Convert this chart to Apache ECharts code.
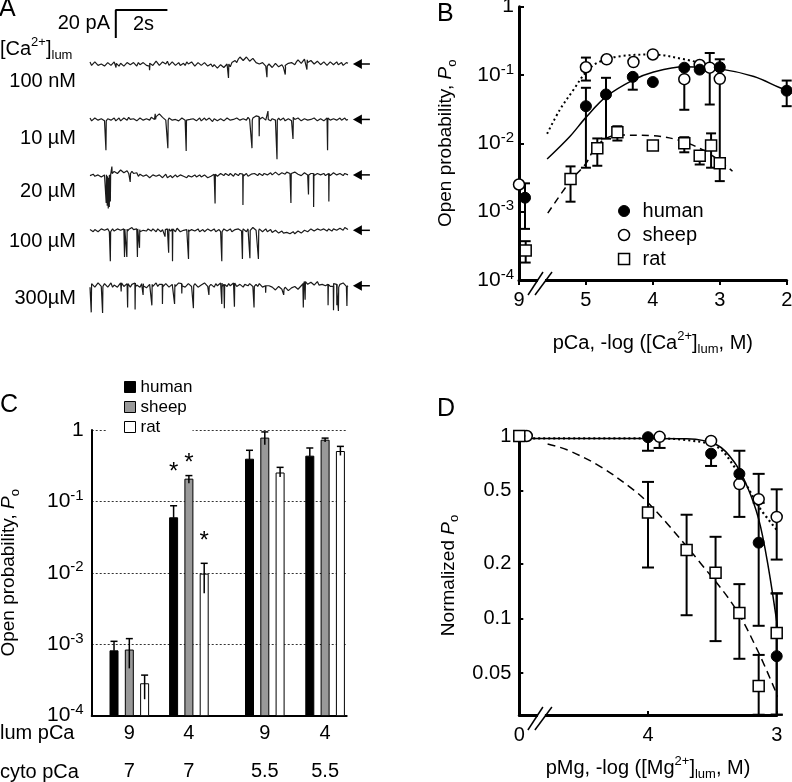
<!DOCTYPE html>
<html><head><meta charset="utf-8">
<script src="https://cdn.jsdelivr.net/npm/echarts@6/dist/echarts.min.js"></script>
<style>html,body{margin:0;padding:0;background:#fff}#c{width:792px;height:782px}</style>
</head><body><div id="c"></div>
<script>
// ================= DATA =================
// ---- Panel A: single-channel traces (pA relative to baseline), one sample per 0.0625 s ----
const traceLabels = ['100 nM', '10 µM', '20 µM', '100 µM', '300µM'];
const traceStep = 0.0625;
const base100nM = [
1.5,-1, -0.5,1.5, 1,-1, -1.5,0, 0.5,-1.5, -1,1, 1.5,-1, -0.5,1.5,
0.5,-0.5, -1.5,0.5, 1,-1.5, -0.5,1, 1.5,-0.5, -1,1, 0,-1.5, 1,-0.5,
-1,1, 0.5,-1, -1.5,0.5, 1,-1, 0,2, 1.5,-1, -0.5,1.5, 1,0,
2,-1, -0.5,1.5, 1,-1, 0,1, -1,0, 0.5,-1, 1.5,0, -0.5,1.5,
0.5,-1.5, -1,1, 1,-1, -0.5,1, 0,-1.5, -1,0, -2,-0.5, -1.5,-3,
-2.5,-0.5, -1,-2.5, -2,0, -0.5,-2, 1,0, 2.5,1, 3.5,5, 4.5,2.5,
3,5, 4,2, 2.5,4, 3,1, 1.5,0, -0.5,1, 0.5,-1.5, -1.5,0,
-1,-2.5, -2,0.5, 0,-2, -1.5,-0.5, -2.5,-1, -1,0.5, -0.5,1, 0.5,-0.5,
1.5,3, 2.5,0.5, 1,3.5, 3,1, 2,2.5, 1.5,0, 0.5,2, 1.5,-0.5,
0,1.5, 1,-1, -0.5,1.5, 1,-0.5, 0.5,1.5, -0.5,0, 1,-1, 0,1,
0.5];
const base10uM = [
1,-1, -0.5,1, 1.5,-0.5, -1,0.5, 0.5,-1, -1.5,0.5, 1,-0.5, 0,1,
-1,0, 1,-1, -0.5,1, 0.5,-0.5, 1.5,0, -1,0.5, 0.5,-1, -0.5,1,
1,-0.5, -1,0.5, 0.5,-0.5, 1.5,0.5, 0,2, 2.5,4, 3.5,1.5, 1,-0.5,
-0.5,1, 1,-0.5, -1,0, 0.5,-1, -0.5,1, 1,-0.5, -1.5,0.5, 0,-1,
0.5,1, -1,0, 1,-1, 0,1, -0.5,-1.5, 1,0, -1.5,0.5, 0.5,-1,
-1,0.5, 0.5,-1, -0.5,1, 1,-0.5, -1.5,0, 0,1, 1,-0.5, -1,0.5,
0.5,-0.5, 1.5,0, -0.5,1, 1,2.5, 2,0, 0.5,1.5, 1.5,-0.5, 0,1,
-1,0.5, 1.5,-0.5, 0.5,1, -0.5,0.5, 1,-1, -1,0.5, 0,-1, 1.5,0,
-0.5,1, 0.5,-1, -1,0.5, 1,-0.5, -1.5,0, 0,1, 0.5,-1, -1,0.5,
0.5,-1, -0.5,1, 1,-0.5, -1,0.5, 0.5,-0.5, 0,1, -0.5,0.5, 1,-0.5,
0];
const base20uM = [
-0.5,0.5, 0.5,-1, -1,0, 0,-1.5, -1.5,0, -1,-2, 0,1, 1,2.5,
2.5,1, 1.5,3.5, 3,1.5, 2,3, 1,2, 2.5,1, 0.5,1.5, -1,0.5,
0,-1, -1.5,0, -0.5,-2, -1,0, 0.5,-1, -1.5,0, -0.5,-2, -1,0.5,
-2,-1, -0.5,-2, -1,0, -1.5,-2.5, 0,-1, -1,-2, -2,-0.5, -0.5,-1.5,
-1,0, -1.5,-0.5, 0,-1.5, -1,0, -0.5,-2, -2,-1, -1,0.5, 0.5,-1,
-0.5,1, 0.5,-0.5, 1,0, -0.5,1, 0,-1, 1,0, -0.5,1, 0.5,-1,
0,1, -1,0, 0.5,-0.5, 1,0, -0.5,1, 0.5,-0.5, 1,2, 0,1,
1.5,0, 0.5,2, 1,0, 0,1.5, 1.5,0.5, 2,3, 1,0, 0.5,2,
2,0.5, 1,-0.5, 0,1.5, 1.5,0, -0.5,1, 1,-0.5, 0,1, 1.5,0,
0.5,1, -0.5,0.5, 1,-0.5, 0,1.5, 1,0, -0.5,1, 0.5,-0.5, 1,0,
0];
const base100uM = [
0.5,-0.5, -1,0.5, 1,-1, -0.5,1, 1.5,0, 0,1, -1,0, 1,-0.5,
0,1, 1.5,0, -0.5,1, 1,-1, 0.5,1.5, 2,0.5, -0.5,1, 0.5,-1,
-1,0, 0.5,-0.5, 1,0, -0.5,1, 0,-1, 1,0, -1,0.5, 0.5,-0.5,
1,0, -0.5,1, 0.5,-1, 1.5,0.5, -1,0, 0,1, 0.5,-1, -0.5,0.5,
1,-0.5, 0,1, -1,0, 0.5,-1, -0.5,1, 1,-0.5, 0,1, -1,0,
0.5,-1, -0.5,1, 1,-0.5, 0,1, -1,0, 0.5,-0.5, 1,0, -0.5,1,
0,-1, 1,0, 0.5,2, 1.5,0, -0.5,1, 0.5,-1, 0,1, -1,0,
0.5,-1.5, -1,0, 0,-2, -1.5,-0.5, -2,-3, -1.5,-0.5, -2.5,-1.5, -1,-2.5,
-2,-0.5, -1,-2, -1.5,0, 0,-1, -0.5,1, 0.5,-0.5, -0.5,1, 1,0,
0,1, 0.5,-0.5, 1,0, -0.5,1, 1.5,0, 0.5,1.5, 1,0, 2,1,
0.5];
const base300uM = [
-1,1.5, 1,-1, 0,2, 1.5,-0.5, -0.5,1.5, 1,-1, 0.5,2, -1,0.5,
1,-1, 0,2, 1.5,-0.5, -0.5,1.5, 0.5,-1, 1,2, -1,0.5, 0.5,-1,
1.5,0, 0,-1.5, -1,1, 1,-0.5, 0.5,2, -0.5,1, 1,-1, 0,1.5,
0.5,-1, -1,1, 1,-0.5, 0,2, 1.5,0, 0.5,-1, -0.5,1.5, 1,-0.5,
0,1.5, 1,-1, -1,0.5, 0.5,2, 1,-0.5, -0.5,1, 0,-1, 1.5,0,
0.5,2, -0.5,1, 1,-0.5, 1.5,0, 0,2, 1,-0.5, -0.5,1, 0.5,-1,
1,0, 0,1.5, 1.5,-0.5, 0.5,1, -0.5,1.5, 1,-1, 0,1, -1,0,
0.5,-1, -1.5,-3, -2,-0.5, -1,-2.5, -2.5,-1, -1.5,-3.5, -3,-1.5, -2,-0.5,
-1,-2.5, -2,0, 1.5,3, 2.5,1, 1,2.5, 2,0.5, 1.5,3, 0.5,-0.5,
1,2, 0,1, 1.5,-0.5, -0.5,1.5, 1,-1, 0,1, 0.5,2, 1,-0.5,
0];
// channel openings: [time s, amplitude pA] (negative = upward blip)
const events100nM = [[1.0,3],[2.3,3],[5.36,10],[6.85,8],[7.56,5],[8.4,7]];
const events10uM = [[0.61,21],[2.52,-4],[3.01,20],[3.72,22],[6.27,20],[6.55,14],[6.89,-6],[7.24,28],[7.86,13],[9.2,23]];
const events20uM = [[0.62,20],[0.66,21],[0.7,22],[0.74,21],[0.78,19],[0.84,-5],[1.55,6],[4.84,21],[5.92,22],[7.78,21],[8.46,14],[8.66,24],[9.25,20]];
const events100uM = [[0.78,21],[1.33,20],[1.42,20],[1.83,20],[1.91,13],[2.9,5],[3.04,17],[3.19,23],[3.81,21],[5.1,21],[5.9,20],[6.19,20],[6.52,20]];
const events300uM = [[0.04,18],[0.48,19],[1.2,6],[1.45,17],[1.74,19],[2.05,8],[2.39,15],[2.8,14],[3.27,14],[3.55,7],[4.0,16],[4.6,6],[5.1,15],[5.2,17],[5.59,17],[6.35,15],[6.8,5],[7.5,4],[8.26,17],[8.33,13],[9.22,15],[9.43,17],[9.56,15],[9.62,17],[9.95,14]];
const scaleBarPA = 20, scaleBarS = 2;

// ---- Panel B: Po vs luminal pCa (pCa 9 sits before the axis break) ----
const bHumanPCa = [8.91, 5.0, 4.7, 4.3, 4.0, 3.53, 3.3, 3.0, 2.0];
const bHumanPo  = [0.0016, 0.035, 0.052, 0.094, 0.079, 0.128, 0.12, 0.13, 0.059];
const bHumanHi  = [0.0026, 0.065, 0.091, 0.10, null, null, null, 0.17, 0.083];
const bHumanLo  = [0.00056, 0.0044, 0.0117, 0.061, null, null, null, null, 0.035];
const bSheepPCa = [9.0, 5.0, 4.69, 4.29, 4.0, 3.53, 3.3, 3.15, 3.0];
const bSheepPo  = [0.0025, 0.13, 0.17, 0.155, 0.20, 0.087, 0.14, 0.128, 0.088];
const bSheepHi  = [null, 0.18, null, null, null, null, null, 0.21, null];
const bSheepLo  = [null, 0.083, null, null, null, 0.031, null, 0.037, 0.0046];
const bRatPCa   = [8.9, 5.23, 4.83, 4.53, 4.0, 3.53, 3.3, 3.13, 3.0];
const bRatPo    = [0.00027, 0.003, 0.0085, 0.0145, 0.0093, 0.010, 0.0066, 0.0093, 0.0051];
const bRatHi    = [0.00037, 0.0046, 0.0118, 0.0178, null, 0.0123, null, 0.014, null];
const bRatLo    = [0.00018, 0.0014, 0.0047, 0.011, null, 0.0074, 0.0049, 0.0044, 0.0028];
const bHumanFitPCa = [5.58, 5.24, 5.0, 4.69, 4.29, 4.0, 3.53, 3.0, 2.49, 2.1, 2.0];
const bHumanFitPo  = [0.0059, 0.0126, 0.024, 0.049, 0.085, 0.11, 0.132, 0.123, 0.095, 0.065, 0.060];
const bSheepFitPCa = [5.58, 5.39, 5.19, 5.0, 4.83, 4.53, 4.0, 3.53, 3.3];
const bSheepFitPo  = [0.0138, 0.031, 0.060, 0.11, 0.151, 0.186, 0.20, 0.17, 0.151];
const bRatFitPCa   = [5.57, 5.24, 5.0, 4.83, 4.53, 4.0, 3.53, 3.13, 2.81];
const bRatFitPo    = [0.00095, 0.00275, 0.0051, 0.0095, 0.0132, 0.0129, 0.0105, 0.0068, 0.0039];
const bTickValues = [6, 5, 4, 3, 2];
const bTickLabels = ['9', '5', '4', '3', '2'];

// ---- Panel C: bar chart ----
const cLumPCa  = ['9', '4', '9', '4'];
const cCytoPCa = ['7', '7', '5.5', '5.5'];
const cHuman   = [0.00081, 0.059, 0.39, 0.43];
const cHumanHi = [0.0011, 0.087, 0.52, 0.56];
const cHumanLo = [null, null, null, null];
const cSheep   = [0.00083, 0.205, 0.77, 0.72];
const cSheepHi = [0.0012, 0.23, 0.94, 0.77];
const cSheepLo = [0.00046, 0.18, 0.62, 0.68];
const cRat     = [0.00028, 0.0096, 0.25, 0.50];
const cRatHi   = [0.00037, 0.0136, 0.30, 0.59];
const cRatLo   = [0.00017, 0.0052, 0.22, 0.44];
const cStars   = [[1, 'human', 0.31], [1, 'sheep', 0.41], [1, 'rat', 0.034]]; // [group, species, height]

// ---- Panel D: normalized Po vs luminal pMg (0 = no Mg, before the break) ----
const dHumanPMg = [0, 4.0, 3.51, 3.29, 3.14, 3.0];
const dHumanPo  = [1, 0.985, 0.80, 0.62, 0.26, 0.062];
const dHumanHi  = [null, null, null, 0.83, 0.43, 0.137];
const dHumanLo  = [null, 0.83, 0.685, 0.36, 0.091, 0.0296];
const dSheepPMg = [0, 3.91, 3.51, 3.29, 3.14, 3.0];
const dSheepPo  = [1, 0.99, 0.94, 0.545, 0.45, 0.36];
const dSheepHi  = [null, null, null, null, 0.62, 0.51];
const dSheepLo  = [null, 0.86, null, null, null, 0.21];
const dRatPMg   = [0, 4.0, 3.70, 3.475, 3.29, 3.14, 3.0];
const dRatPo    = [1, 0.38, 0.237, 0.178, 0.107, 0.0425, 0.083];
const dRatHi    = [null, 0.56, 0.37, 0.28, 0.154, 0.063, 0.137];
const dRatLo    = [null, 0.19, 0.104, 0.075, 0.06, 0.0296, 0.0296];
const dHumanFitPMg = [4.93, 4.5, 4.0, 3.7, 3.46, 3.33, 3.23, 3.14, 3.07, 2.99];
const dHumanFitPo  = [0.97, 0.97, 0.97, 0.965, 0.89, 0.72, 0.53, 0.35, 0.2, 0.086];
const dSheepFitPMg = [4.93, 4.0, 3.7, 3.46, 3.33, 3.23, 3.14, 2.99];
const dSheepFitPo  = [0.97, 0.97, 0.95, 0.87, 0.68, 0.53, 0.41, 0.30];
const dRatFitPMg   = [4.78, 4.63, 4.37, 4.11, 4.0, 3.85, 3.59, 3.33, 3.15, 2.99];
const dRatFitPo    = [0.905, 0.84, 0.68, 0.505, 0.43, 0.33, 0.2, 0.116, 0.067, 0.037];
const dYTicks = [1, 0.5, 0.2, 0.1, 0.05];
const dTickLabels = {5: '0', 4: '4', 3: '3'};

// ================= LAYOUT / STYLE =================
const FONT = '"Liberation Sans", Arial, sans-serif';
const traceGap = 39.6;          // pA between stacked traces
const bBreakPos = 5.686, dBreakPos = 4.84;
const cGroupPos = [0.627, 1.62, 2.885, 3.89];
const cBarOffset = {human: -0.255, sheep: 0, rat: 0.255};
const dZeroJitter = {human: 0, sheep: -0.058, rat: 0};
const bX = p => (p >= 8 ? p - 3 : p);     // pCa 9 drawn just before the break
const dX = (p, sp) => (p === 0 ? 5 + dZeroJitter[sp] : p);

function buildTrace(base, events, k) {
  const evs = events.slice().sort((a, b) => a[0] - b[0]);
  const out = [];
  let j = 0;
  base.forEach((v, i) => {
    const t = i * traceStep;
    while (j < evs.length && evs[j][0] < t) {
      const prev = out.length ? out[out.length - 1][1] : v;
      const te = evs[j][0], a = evs[j][1];
      out.push([te, prev], [te + 0.008, prev - a], [te + 0.02, prev]);
      j++;
    }
    out.push([t, v]);
  });
  return out.map(p => [p[0], p[1] - k * traceGap]);
}
const traces = [
  buildTrace(base100nM, events100nM, 0),
  buildTrace(base10uM, events10uM, 1),
  buildTrace(base20uM, events20uM, 2),
  buildTrace(base100uM, events100uM, 3),
  buildTrace(base300uM, events300uM, 4)
];

function errData(xs, ys, lo, hi, xmap) {
  const out = [];
  xs.forEach((x, i) => {
    const l = lo[i], h = hi[i];
    if (l == null && h == null) return;
    out.push([xmap(x), l == null ? ys[i] : l, h == null ? ys[i] : h, l == null ? 0 : 1, h == null ? 0 : 1]);
  });
  return out;
}
function errSeries(name, ai, data, cap, lw) {
  return {
    type: 'custom', name, xAxisIndex: ai, yAxisIndex: ai, z: 2, silent: true,
    encode: {x: 0, y: [1, 2]}, data,
    renderItem(params, api) {
      const x = api.value(0);
      const a = api.coord([x, api.value(1)]), b = api.coord([x, api.value(2)]);
      const st = {stroke: '#000', lineWidth: lw, fill: null};
      const ch = [{type: 'line', shape: {x1: a[0], y1: a[1], x2: b[0], y2: b[1]}, style: st}];
      if (api.value(3)) ch.push({type: 'line', shape: {x1: a[0] - cap, y1: a[1], x2: a[0] + cap, y2: a[1]}, style: st});
      if (api.value(4)) ch.push({type: 'line', shape: {x1: b[0] - cap, y1: b[1], x2: b[0] + cap, y2: b[1]}, style: st});
      return {type: 'group', children: ch};
    }
  };
}
const markerStyle = {
  human: {symbol: 'circle', itemStyle: {color: '#000', borderColor: '#000', borderWidth: 1, opacity: 1}, z: 5},
  sheep: {symbol: 'circle', itemStyle: {color: '#fff', borderColor: '#000', borderWidth: 1.5, opacity: 1}, z: 4},
  rat:   {symbol: 'rect',   itemStyle: {color: '#fff', borderColor: '#000', borderWidth: 1.5, opacity: 1}, z: 6}
};
function scatterSeries(sp, ai, data) {
  const m = markerStyle[sp];
  return {type: 'scatter', name: sp, xAxisIndex: ai, yAxisIndex: ai, symbol: m.symbol, symbolSize: 11,
    itemStyle: m.itemStyle, z: m.z, data, silent: true};
}
function fitSeries(name, ai, data, lineStyle) {
  return {type: 'line', name, xAxisIndex: ai, yAxisIndex: ai, data, symbol: 'none', smooth: 0.35,
    lineStyle: Object.assign({color: '#000'}, lineStyle), z: 3, silent: true};
}
function breakSeries(ai, pos, yMin) {
  return {type: 'custom', xAxisIndex: ai, yAxisIndex: ai, z: 10, silent: true, data: [[pos, yMin]],
    encode: {x: 0, y: 1},
    renderItem(params, api) {
      const p = api.coord([api.value(0), api.value(1)]);
      const st = {stroke: '#000', lineWidth: 1.5};
      return {type: 'group', children: [
        {type: 'rect', shape: {x: p[0] - 2, y: p[1] - 3, width: 7, height: 6}, style: {fill: '#fff'}},
        {type: 'line', shape: {x1: p[0] - 12, y1: p[1] + 15, x2: p[0] + 3, y2: p[1] - 8}, style: st},
        {type: 'line', shape: {x1: p[0] - 5, y1: p[1] + 15, x2: p[0] + 12, y2: p[1] - 8}, style: st}
      ]};
    }};
}
function barSeries(sp, vals, lo, hi, fill) {
  const data = vals.map((v, g) => [cGroupPos[g] + cBarOffset[sp], v,
    lo[g] == null ? v : lo[g], hi[g] == null ? v : hi[g]]);
  return {type: 'custom', name: sp, xAxisIndex: 2, yAxisIndex: 2, z: 3, silent: true,
    encode: {x: 0, y: [1, 2, 3]}, data,
    renderItem(params, api) {
      const x = api.value(0);
      const top = api.coord([x, api.value(1)]), bot = api.coord([x, 1e-4]);
      const lo = api.coord([x, api.value(2)]), hi = api.coord([x, api.value(3)]);
      const est = {stroke: '#000', lineWidth: 1.5};
      return {type: 'group', children: [
        {type: 'rect', shape: {x: top[0] - 4, y: top[1], width: 8, height: bot[1] - top[1]},
          style: {fill, stroke: '#000', lineWidth: 1}},
        {type: 'line', shape: {x1: lo[0], y1: lo[1], x2: hi[0], y2: hi[1]}, style: est},
        {type: 'line', shape: {x1: hi[0] - 3.5, y1: hi[1], x2: hi[0] + 3.5, y2: hi[1]}, style: est}
      ]};
    }};
}

const supRich = {
  n: {fontSize: 21, lineHeight: 26, fontFamily: FONT, color: '#000', align: 'left'},
  s: {fontSize: 15, lineHeight: 16, verticalAlign: 'top', fontFamily: FONT, color: '#000', align: 'left'}
};
function powLabel(v) {
  if (Math.abs(v - 1) < 1e-9) return '{n|1}';
  return '{n|10}{s|' + Math.round(Math.log10(v)) + '}';
}
const nameRich = {
  sup: {fontSize: 13, lineHeight: 14, verticalAlign: 'top', fontFamily: FONT, color: '#000'},
  sub: {fontSize: 13, lineHeight: 14, verticalAlign: 'bottom', fontFamily: FONT, color: '#000'},
  i: {fontStyle: 'italic', fontSize: 19, fontFamily: FONT, color: '#000'}
};
const nameStyle = (fs) => ({fontSize: fs, fontFamily: FONT, color: '#000', lineHeight: 26, rich: nameRich});

// ================= OPTION =================
const series = [];
// B
series.push(scatterSeries('human', 1, bHumanPCa.map((x, i) => [bX(x), bHumanPo[i]])));
series.push(scatterSeries('sheep', 1, bSheepPCa.map((x, i) => [bX(x), bSheepPo[i]])));
series.push(scatterSeries('rat', 1, bRatPCa.map((x, i) => [bX(x), bRatPo[i]])));
series.push(errSeries('human err', 1, errData(bHumanPCa, bHumanPo, bHumanLo, bHumanHi, bX), 5, 2));
series.push(errSeries('sheep err', 1, errData(bSheepPCa, bSheepPo, bSheepLo, bSheepHi, bX), 5, 2));
series.push(errSeries('rat err', 1, errData(bRatPCa, bRatPo, bRatLo, bRatHi, bX), 5, 2));
series.push(fitSeries('human fit', 1, bHumanFitPCa.map((x, i) => [x, bHumanFitPo[i]]), {width: 1.5, type: 'solid'}));
series.push(fitSeries('sheep fit', 1, bSheepFitPCa.map((x, i) => [x, bSheepFitPo[i]]), {width: 2, type: [2, 3]}));
series.push(fitSeries('rat fit', 1, bRatFitPCa.map((x, i) => [x, bRatFitPo[i]]), {width: 1.5, type: [7, 5]}));
series.push(breakSeries(1, bBreakPos, 1e-4));
// D
series.push(scatterSeries('sheep', 3, dSheepPMg.map((x, i) => [dX(x, 'sheep'), dSheepPo[i]])));
series.push(scatterSeries('human', 3, dHumanPMg.map((x, i) => [dX(x, 'human'), dHumanPo[i]])));
series.push(scatterSeries('rat', 3, dRatPMg.map((x, i) => [dX(x, 'rat'), dRatPo[i]])));
series.push(errSeries('human err', 3, errData(dHumanPMg, dHumanPo, dHumanLo, dHumanHi, x => dX(x, 'human')), 6, 2));
series.push(errSeries('sheep err', 3, errData(dSheepPMg, dSheepPo, dSheepLo, dSheepHi, x => dX(x, 'sheep')), 6, 2));
series.push(errSeries('rat err', 3, errData(dRatPMg, dRatPo, dRatLo, dRatHi, x => dX(x, 'rat')), 6, 2));
series.push(fitSeries('human fit', 3, dHumanFitPMg.map((x, i) => [x, dHumanFitPo[i]]), {width: 1.5, type: 'solid'}));
series.push(fitSeries('sheep fit', 3, dSheepFitPMg.map((x, i) => [x, dSheepFitPo[i]]), {width: 2.2, type: [2, 3]}));
series.push(fitSeries('rat fit', 3, dRatFitPMg.map((x, i) => [x, dRatFitPo[i]]), {width: 1.5, type: [8, 5]}));
series.push(breakSeries(3, dBreakPos, 0.0295));
// C
series.push(barSeries('human', cHuman, cHumanLo, cHumanHi, '#000'));
series.push(barSeries('sheep', cSheep, cSheepLo, cSheepHi, '#999'));
series.push(barSeries('rat', cRat, cRatLo, cRatHi, '#fff'));
series.push({type: 'custom', xAxisIndex: 2, yAxisIndex: 2, z: 5, silent: true,
  data: cStars.map(s => [cGroupPos[s[0]] + cBarOffset[s[1]], s[2]]), encode: {x: 0, y: 1},
  renderItem(params, api) {
    const p = api.coord([api.value(0), api.value(1)]);
    return {type: 'text', x: p[0], y: p[1] + 6, style: {text: '*', fontSize: 24, fontFamily: FONT, fill: '#000', align: 'center', verticalAlign: 'middle'}};
  }});
series.push({type: 'custom', xAxisIndex: 2, yAxisIndex: 2, z: 5, silent: true,
  data: cGroupPos.map((p, i) => [p, 1e-4, i]), encode: {x: 0, y: 1},
  renderItem(params, api) {
    const p = api.coord([api.value(0), api.value(1)]);
    const i = api.value(2);
    const st = t => ({text: t, fontSize: 20, fontFamily: FONT, fill: '#000', align: 'center', verticalAlign: 'middle'});
    return {type: 'group', children: [
      {type: 'text', x: p[0], y: p[1] + 18, style: st(cLumPCa[i])},
      {type: 'text', x: p[0], y: p[1] + 56, style: st(cCytoPCa[i])}
    ]};
  }});
// A
traces.forEach((d, k) => series.push({type: 'line', name: traceLabels[k], xAxisIndex: 0, yAxisIndex: 0,
  data: d, symbol: 'none', lineStyle: {color: '#1a1a1a', width: 1.2}, z: 2, silent: true}));
series.push({type: 'line', name: 'scale bar', xAxisIndex: 0, yAxisIndex: 0, symbol: 'none', silent: true,
  data: [[1, 18.6], [1, 18.6 + scaleBarPA], [1 + scaleBarS, 18.6 + scaleBarPA]],
  lineStyle: {color: '#000', width: 2}});
series.push({type: 'custom', xAxisIndex: 0, yAxisIndex: 0, z: 3, silent: true,
  data: traceLabels.map((l, k) => [10.19, -k * traceGap]), encode: {x: 0, y: 1},
  renderItem(params, api) {
    const p = api.coord([api.value(0), api.value(1)]);
    return {type: 'group', children: [
      {type: 'polygon', shape: {points: [[p[0], p[1]], [p[0] + 9, p[1] - 5], [p[0] + 9, p[1] + 5]]}, style: {fill: '#000'}},
      {type: 'line', shape: {x1: p[0] + 8, y1: p[1], x2: p[0] + 17, y2: p[1]}, style: {stroke: '#000', lineWidth: 1.5}}
    ]};
  }});

const textEl = (x, y, text, opt) => ({type: 'text', x, y, silent: true,
  style: Object.assign({text, fontSize: 20, fontFamily: FONT, fill: '#000', align: 'left', verticalAlign: 'top'}, opt || {})});
const graphic = [
  textEl(-1, -3, 'A', {fontSize: 25}),
  textEl(437, 2, 'B', {fontSize: 25}),
  textEl(0, 393, 'C', {fontSize: 25}),
  textEl(437, 397, 'D', {fontSize: 25}),
  textEl(110, 13, '20 pA', {align: 'right'}),
  textEl(133, 14, '2s'),
  textEl(0, 36, '[Ca{sup|2+}]{sub|lum}', {lineHeight: 26, rich: nameRich}),
  textEl(0, 733, 'lum pCa', {verticalAlign: 'middle'}),
  textEl(0, 772, 'cyto pCa', {verticalAlign: 'middle'})
];
const labelTops = [71, 128, 181, 231, 288];
traceLabels.forEach((l, k) => graphic.push(textEl(76, labelTops[k], l, {align: 'right'})));

const option = {
  animation: false,
  textStyle: {fontFamily: FONT},
  grid: [
    {left: 90, top: 8, width: 283.8, height: 308, outerBoundsMode: 'none', containLabel: false},
    {left: 519, top: 6.7, width: 267.7, height: 273.3, outerBoundsMode: 'none', containLabel: false},
    {left: 91.7, top: 430, width: 255, height: 285.7, outerBoundsMode: 'none', containLabel: false},
    {left: 519.3, top: 436, width: 257.4, height: 279, outerBoundsMode: 'none', containLabel: false}
  ],
  xAxis: [
    {gridIndex: 0, type: 'value', min: 0, max: 11, show: false},
    {gridIndex: 1, type: 'value', min: 2, max: 6, interval: 1, inverse: true,
      axisLine: {lineStyle: {color: '#000', width: 3}},
      axisTick: {show: true, inside: false, length: 5, lineStyle: {color: '#000', width: 2}},
      axisLabel: {fontSize: 20, color: '#000', margin: 10, formatter: v => bTickLabels[bTickValues.indexOf(v)]},
      splitLine: {show: false},
      name: 'pCa, -log ([Ca{sup|2+}]{sub|lum}, M)', nameLocation: 'middle', nameGap: 50, nameTextStyle: nameStyle(20)},
    {gridIndex: 2, type: 'value', min: 0, max: 4.25,
      axisLine: {lineStyle: {color: '#000', width: 2}}, axisTick: {show: false}, axisLabel: {show: false}, splitLine: {show: false}},
    {gridIndex: 3, type: 'value', min: 3, max: 5, interval: 1, inverse: true,
      axisLine: {lineStyle: {color: '#000', width: 3}},
      axisTick: {show: true, inside: true, length: 4, lineStyle: {color: '#000', width: 2}},
      axisLabel: {fontSize: 20, color: '#000', margin: 10, formatter: v => dTickLabels[v]},
      splitLine: {show: false},
      name: 'pMg, -log ([Mg{sup|2+}]{sub|lum}, M)', nameLocation: 'middle', nameGap: 40, nameTextStyle: nameStyle(20)}
  ],
  yAxis: [
    {gridIndex: 0, type: 'value', min: -180, max: 40, show: false},
    {gridIndex: 1, type: 'log', logBase: 10, min: 1e-4, max: 1,
      axisLine: {lineStyle: {color: '#000', width: 3}},
      axisTick: {show: true, inside: true, length: 5, lineStyle: {color: '#000', width: 2}},
      axisLabel: {margin: 5, fontSize: 21, formatter: powLabel, rich: supRich},
      splitLine: {show: false},
      name: 'Open probability, {i|P}{sub|o}', nameLocation: 'middle', nameRotate: 90, nameGap: 60, nameTextStyle: nameStyle(19)},
    {gridIndex: 2, type: 'log', logBase: 10, min: 1e-4, max: 1,
      axisLine: {lineStyle: {color: '#000', width: 2}},
      axisTick: {show: false},
      axisLabel: {margin: 8, fontSize: 21, formatter: powLabel, rich: supRich},
      splitLine: {show: true, lineStyle: {color: '#333', width: 1, type: [2, 2]}},
      name: 'Open probability, {i|P}{sub|o}', nameLocation: 'middle', nameRotate: 90, nameGap: 70, nameTextStyle: nameStyle(19)},
    {gridIndex: 3, type: 'log', logBase: 10, min: 0.0295, max: 1,
      axisLine: {lineStyle: {color: '#000', width: 3}},
      axisTick: {show: true, inside: true, length: 4, lineStyle: {color: '#000', width: 2}, customValues: dYTicks},
      axisLabel: {fontSize: 20, color: '#000', margin: 8, customValues: dYTicks, formatter: v => String(v)},
      splitLine: {show: false},
      name: 'Normalized {i|P}{sub|o}', nameLocation: 'middle', nameRotate: 90, nameGap: 58, nameTextStyle: nameStyle(19)}
  ],
  legend: [
    {orient: 'vertical', left: 612.8, top: 196, itemWidth: 11, itemHeight: 11, itemGap: 4, selectedMode: false,
      textStyle: {fontSize: 20, fontFamily: FONT, color: '#000', lineHeight: 20, padding: [0, 0, 0, 8]},
      data: [
        {name: 'human', icon: 'circle', itemStyle: {color: '#000', borderColor: '#000', borderWidth: 1, opacity: 1}},
        {name: 'sheep', icon: 'circle', itemStyle: {color: '#fff', borderColor: '#000', borderWidth: 1.5, opacity: 1}},
        {name: 'rat', icon: 'rect', itemStyle: {color: '#fff', borderColor: '#000', borderWidth: 1.5, opacity: 1}}
      ]},
    {orient: 'vertical', left: 107, top: 377, itemWidth: 11, itemHeight: 11, itemGap: 0, selectedMode: false,
      backgroundColor: '#fff', padding: [0, 0, 0, 17],
      textStyle: {fontSize: 17, fontFamily: FONT, color: '#000', lineHeight: 20},
      data: [
        {name: 'human', icon: 'rect', itemStyle: {color: '#000', borderColor: '#000', borderWidth: 1, opacity: 1}},
        {name: 'sheep', icon: 'rect', itemStyle: {color: '#999', borderColor: '#000', borderWidth: 1, opacity: 1}},
        {name: 'rat', icon: 'rect', itemStyle: {color: '#fff', borderColor: '#000', borderWidth: 1, opacity: 1}}
      ]}
  ],
  graphic,
  series
};
const chart = echarts.init(document.getElementById('c'), null, {renderer: 'canvas'});
chart.setOption(option);
</script>
</body></html>
